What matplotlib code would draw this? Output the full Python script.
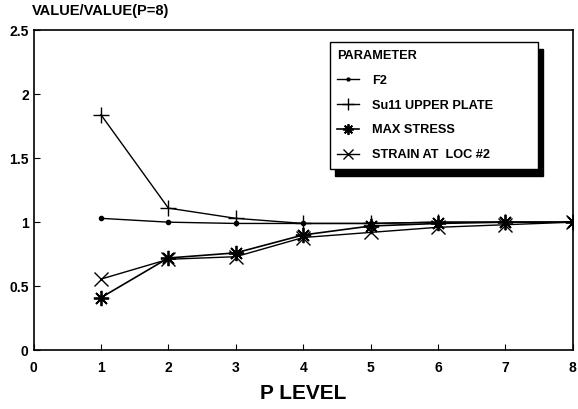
import numpy as np
import matplotlib
matplotlib.use("Agg")
import matplotlib.pyplot as plt

plt.rcParams['font.family'] = ['Liberation Sans', 'DejaVu Sans']
plt.rcParams['font.weight'] = 'bold'

# P levels and normalised values (value / value at P=8)
p_level = [1, 2, 3, 4, 5, 6, 7, 8]
f2 = [1.03, 1.00, 0.99, 0.99, 0.99, 1.00, 1.00, 1.00]
su11_upper = [1.84, 1.11, 1.03, 0.99, 0.99, 1.00, 1.00, 1.00]
max_stress = [0.41, 0.72, 0.76, 0.90, 0.97, 0.99, 1.00, 1.00]
strain_loc2 = [0.555, 0.71, 0.73, 0.88, 0.92, 0.96, 0.98, 1.00]

xticks = [0, 1, 2, 3, 4, 5, 6, 7, 8]
yticks = [0, 0.5, 1, 1.5, 2, 2.5]
ytick_labels = ["0", "0.5", "1", "1.5", "2", "2.5"]

fig = plt.figure(figsize=(5.78, 4.09), dpi=100)
ax = fig.add_axes([0.058, 0.144, 0.933, 0.782])

ax.plot(p_level, f2, color='black', lw=1.0, marker='o', ms=3, label='F2')
ax.plot(p_level, su11_upper, color='black', lw=1.0, marker='+', ms=12, mew=1.0,
        label='Su11 UPPER PLATE')
ax.plot(p_level, max_stress, color='black', lw=1.2, marker=(8, 2, 0), ms=11, mew=1.3,
        label='MAX STRESS')
ax.plot(p_level, strain_loc2, color='black', lw=1.0, marker='x', ms=10, mew=1.0,
        label='STRAIN AT  LOC #2')

ax.set_xlim(0, 8)
ax.set_ylim(0, 2.5)
ax.set_xticks(xticks)
ax.set_yticks(yticks)
ax.set_yticklabels(ytick_labels)
ax.tick_params(direction='in', length=4, width=0.8, labelsize=10)
ax.tick_params(axis='x', pad=8)
for s in ax.spines.values():
    s.set_linewidth(1.2)

ax.set_xlabel("P LEVEL", fontsize=15, fontweight='bold', labelpad=6)
fig.text(0.055, 0.955, "VALUE/VALUE(P=8)", fontsize=10.5, ha='left', va='bottom')

# legend box: left edge ~330px, right ~538px
leg = ax.legend(loc='upper left', bbox_to_anchor=(0.549, 0.5, 0.386, 0.462),
                mode='expand', borderaxespad=0,
                title='PARAMETER', fontsize=9.2, title_fontsize=9.2, frameon=True,
                fancybox=False,
                shadow={'color': 'black', 'alpha': 1.0, 'ox': 4, 'oy': -5},
                edgecolor='black', handlelength=1.7, handletextpad=1.0,
                labelspacing=1.0, borderpad=0.6, markerscale=0.7, alignment='left')
leg.get_frame().set_linewidth(1.0)

fig.savefig("out.png", dpi=100)
